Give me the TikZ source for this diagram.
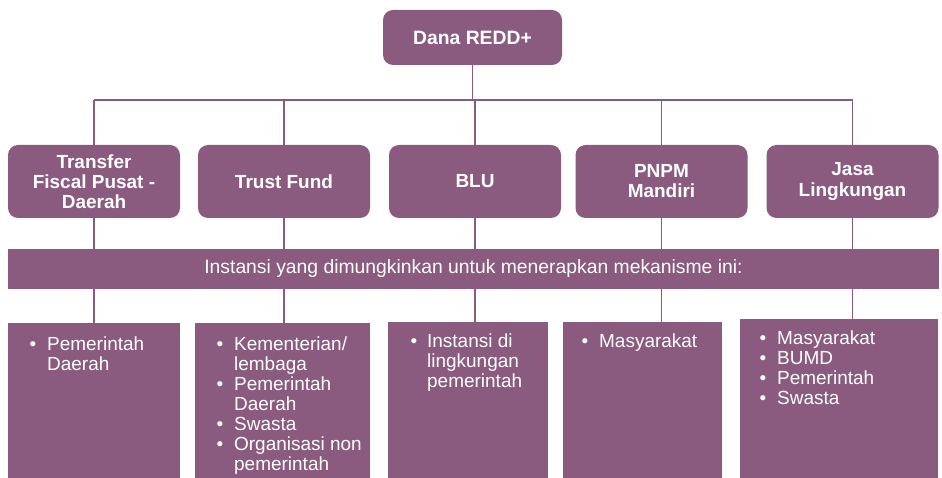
\documentclass[tikz,border=0pt]{standalone}
\usepackage{fontspec}
\setmainfont{Liberation Sans}
\usepackage{tikz}
\usetikzlibrary{positioning}
\definecolor{reddpurple}{HTML}{8A5A7F}

\begin{document}
\begin{tikzpicture}[
    line width=0.6pt,
    fundbox/.style={rectangle, rounded corners=0.2cm, fill=reddpurple, text=white,
                    minimum width=3.44cm, minimum height=1.46cm, align=center,
                    inner sep=2pt, outer sep=0pt,
                    font=\bfseries\fontsize{10.8}{11.4}\selectfont},
    band/.style={rectangle, fill=reddpurple, text=white, minimum width=18.62cm,
                 minimum height=0.8cm, font=\fontsize{11}{12}\selectfont},
    lowbox/.style={rectangle, fill=reddpurple, anchor=north west, inner sep=0pt,
                   outer sep=0pt},
    itemlist/.style={anchor=north west, inner sep=0pt, text=white, align=left,
                     font=\fontsize{10.8}{11.4}\selectfont},
    link/.style={draw=reddpurple}
]
\useasboundingbox (0,0) rectangle (18.84,-9.56);

% top of the tree
\node[fundbox, minimum width=3.58cm, minimum height=1.1cm,
      font=\bfseries\fontsize{11}{12}\selectfont] (dana) at (9.45,-0.75) {Dana REDD+};

% funding channels
\node[fundbox] (fiscal) at (1.88,-3.63) {Transfer\\Fiscal Pusat -\\Daerah};
\node[fundbox, right=0.36cm of fiscal] (trust) {Trust Fund};
\node[fundbox, right=0.38cm of trust] (blu) {BLU};
\node[fundbox, right=0.29cm of blu] (pnpm) {PNPM\\Mandiri};
\node[fundbox, right=0.38cm of pnpm] (jasa) {Jasa\\Lingkungan};

% boxes below the band
\node[lowbox, minimum width=3.44cm, minimum height=3.10cm] (low1) at (0.16,-6.46) {};
\node[lowbox, minimum width=3.50cm, minimum height=3.10cm] (low2) at (3.90,-6.46) {};
\node[lowbox, minimum width=3.20cm, minimum height=3.12cm] (low3) at (7.76,-6.44) {};
\node[lowbox, minimum width=3.18cm, minimum height=3.12cm] (low4) at (11.26,-6.44) {};
\node[lowbox, minimum width=3.96cm, minimum height=3.18cm] (low5) at (14.80,-6.38) {};

% connectors
\coordinate (bus) at (9.45,-2.0);
\draw[link] (dana.south) -- (dana.south |- bus);
\draw[link] (fiscal.north |- bus) -- (jasa.north |- bus);
\foreach \n/\m in {fiscal/low1, trust/low2, blu/low3, pnpm/low4, jasa/low5} {
    \draw[link] (\n.north |- bus) -- (\n.north);
    \draw[link] (\n.south) -- (\n.south |- \m.north);
}

\node[band] (instansi) at (9.47,-5.38) {Instansi yang dimungkinkan untuk menerapkan mekanisme ini:};

% who can use each channel
\node[itemlist] (list1) at ([xshift=0.42cm,yshift=-0.26cm]low1.north west) {%
  \begin{tabular}{@{}l@{\hspace{0.22cm}}l@{}}
  \textbullet & Pemerintah\\ & Daerah
  \end{tabular}};
\node[itemlist] (list2) at ([xshift=0.42cm,yshift=-0.26cm]low2.north west) {%
  \begin{tabular}{@{}l@{\hspace{0.22cm}}l@{}}
  \textbullet & Kementerian/\\ & lembaga\\
  \textbullet & Pemerintah\\ & Daerah\\
  \textbullet & Swasta\\
  \textbullet & Organisasi non\\ & pemerintah
  \end{tabular}};
\node[itemlist] (list3) at ([xshift=0.44cm,yshift=-0.22cm]low3.north west) {%
  \begin{tabular}{@{}l@{\hspace{0.2cm}}l@{}}
  \textbullet & Instansi di\\ & lingkungan\\ & pemerintah
  \end{tabular}};
\node[itemlist] (list4) at ([xshift=0.36cm,yshift=-0.22cm]low4.north west) {%
  \begin{tabular}{@{}l@{\hspace{0.22cm}}l@{}}
  \textbullet & Masyarakat
  \end{tabular}};
\node[itemlist] (list5) at ([xshift=0.38cm,yshift=-0.22cm]low5.north west) {%
  \begin{tabular}{@{}l@{\hspace{0.22cm}}l@{}}
  \textbullet & Masyarakat\\
  \textbullet & BUMD\\
  \textbullet & Pemerintah\\
  \textbullet & Swasta
  \end{tabular}};
\end{tikzpicture}
\end{document}
